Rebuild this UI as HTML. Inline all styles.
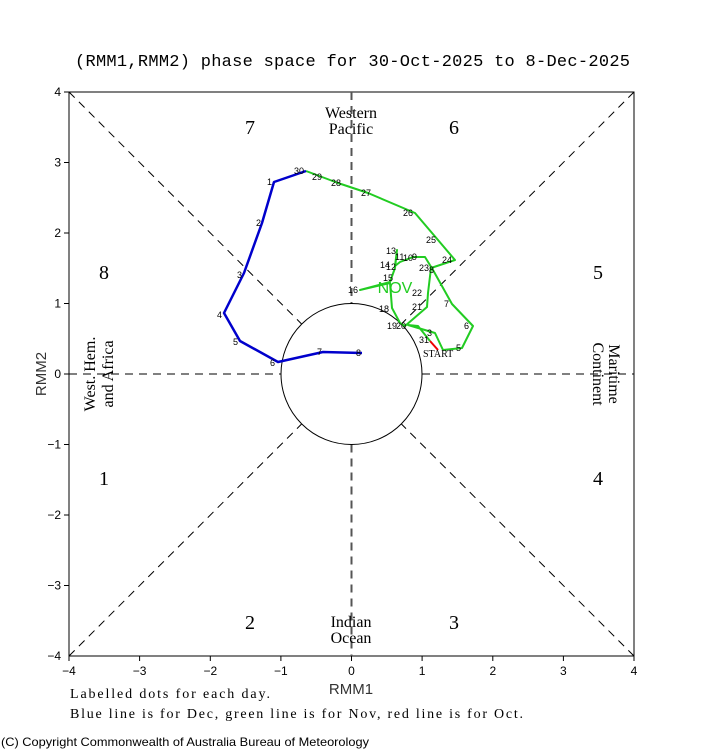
<!DOCTYPE html>
<html><head><meta charset="utf-8"><style>
body{margin:0;background:#fff;}
svg{display:block;}
</style></head><body>
<svg width="705" height="750" xmlns="http://www.w3.org/2000/svg" font-family="Liberation Sans, sans-serif">
<rect width="705" height="750" fill="#fff"/>
<text x="75" y="66" font-family="Liberation Mono, monospace" font-size="17" textLength="555" lengthAdjust="spacing" fill="#000">(RMM1,RMM2) phase space for 30-Oct-2025 to  8-Dec-2025</text>
<rect x="69" y="92" width="565" height="564" fill="none" stroke="#000" stroke-width="1"/>
<g stroke="#000" stroke-width="1" stroke-dasharray="8,6" fill="none">
<line x1="69" y1="92" x2="301.6" y2="324"/>
<line x1="634" y1="92" x2="401.4" y2="324"/>
<line x1="69" y1="656" x2="301.6" y2="424"/>
<line x1="634" y1="656" x2="401.4" y2="424"/>
<line x1="69" y1="374" x2="281" y2="374"/>
<line x1="422" y1="374" x2="634" y2="374"/>
</g>
<g stroke="#555" stroke-width="2" stroke-dasharray="8,6">
<line x1="351.5" y1="92" x2="351.5" y2="303.5"/>
<line x1="351.5" y1="444.5" x2="351.5" y2="656"/>
</g>
<circle cx="351.5" cy="374" r="70.5" fill="none" stroke="#000" stroke-width="1"/>
<g stroke="#000" stroke-width="1">
<line x1="69" y1="656" x2="69" y2="661"/><line x1="139.6" y1="656" x2="139.6" y2="661"/><line x1="210.3" y1="656" x2="210.3" y2="661"/><line x1="280.9" y1="656" x2="280.9" y2="661"/><line x1="351.5" y1="656" x2="351.5" y2="661"/><line x1="422.1" y1="656" x2="422.1" y2="661"/><line x1="492.8" y1="656" x2="492.8" y2="661"/><line x1="563.4" y1="656" x2="563.4" y2="661"/><line x1="634" y1="656" x2="634" y2="661"/>
<line x1="64" y1="92" x2="69" y2="92"/><line x1="64" y1="162.5" x2="69" y2="162.5"/><line x1="64" y1="233" x2="69" y2="233"/><line x1="64" y1="303.5" x2="69" y2="303.5"/><line x1="64" y1="374" x2="69" y2="374"/><line x1="64" y1="444.5" x2="69" y2="444.5"/><line x1="64" y1="515" x2="69" y2="515"/><line x1="64" y1="585.5" x2="69" y2="585.5"/>
</g>
<g font-size="12" text-anchor="middle" fill="#000">
<text x="69" y="675">−4</text><text x="139.6" y="675">−3</text><text x="210.3" y="675">−2</text><text x="280.9" y="675">−1</text><text x="351.5" y="675">0</text><text x="422.1" y="675">1</text><text x="492.8" y="675">2</text><text x="563.4" y="675">3</text><text x="634" y="675">4</text>
</g>
<g font-size="12" text-anchor="end" fill="#000">
<text x="61" y="96">4</text><text x="61" y="166.5">3</text><text x="61" y="237">2</text><text x="61" y="307.5">1</text><text x="61" y="378">0</text><text x="61" y="448.5">−1</text><text x="61" y="519">−2</text><text x="61" y="589.5">−3</text><text x="61" y="660">−4</text>
</g>
<text x="351" y="694" font-size="15" text-anchor="middle" fill="#333">RMM1</text>
<text transform="translate(46,374) rotate(-90)" font-size="15" text-anchor="middle" fill="#333">RMM2</text>
<g font-family="Liberation Serif, serif" font-size="20" text-anchor="middle" fill="#000">
<text x="250" y="134">7</text><text x="454" y="134">6</text><text x="104" y="279">8</text><text x="598" y="279">5</text><text x="104" y="485">1</text><text x="598" y="485">4</text><text x="250" y="629">2</text><text x="454" y="629">3</text>
</g>
<g font-family="Liberation Serif, serif" font-size="16" text-anchor="middle" fill="#000">
<text x="351" y="118">Western</text><text x="351" y="134">Pacific</text>
<text x="351" y="627">Indian</text><text x="351" y="643">Ocean</text>
<text transform="translate(95,374) rotate(-90)">West. Hem.</text>
<text transform="translate(113,374) rotate(-90)">and Africa</text>
<text transform="translate(609,374) rotate(90)">Maritime</text>
<text transform="translate(593,374) rotate(90)">Continent</text>
</g>
<polyline fill="none" stroke="#e00" stroke-width="2" points="438,350 430,341"/>
<polyline fill="none" stroke="#22cc22" stroke-width="2" stroke-linejoin="round" points="430,341 418,326 408,325 435,333 443,350 462,348 473,326 452,304 433,270 425,257 413,257 400,262 395,266 397,250 395,268 390,282 360,290 390,283 392,308 400,323 405,326 427,307 428,293 431,268 455,260 438,240 415,213 368,193 338,183 322,177 306,171"/>
<polyline fill="none" stroke="#0000cc" stroke-width="2.5" stroke-linejoin="round" points="306,171 274,182 262,223 244,273 224,313 240,341 278,362 323,352 362,353"/>
<text x="395" y="293" font-size="16" fill="#22cc22" text-anchor="middle">NOV</text>
<g font-size="9" fill="#000">
<text x="294" y="174">30</text><text x="267" y="185">1</text><text x="256" y="226">2</text><text x="237" y="278">3</text><text x="217" y="318">4</text><text x="233" y="345">5</text><text x="270" y="366">6</text><text x="317" y="355">7</text><text x="356" y="356">8</text>
<text x="312" y="180">29</text><text x="331" y="186">28</text><text x="361" y="196">27</text><text x="403" y="216">26</text><text x="426" y="243">25</text><text x="442" y="263">24</text><text x="419" y="271">23</text><text x="412" y="296">22</text><text x="412" y="310">21</text><text x="386" y="270">12</text><text x="380" y="268">14</text><text x="386" y="254">13</text><text x="403" y="261">10</text><text x="412" y="260">9</text><text x="429" y="273">8</text><text x="444" y="307">7</text><text x="464" y="329">6</text><text x="456" y="351">5</text><text x="427" y="336">3</text><text x="419" y="343">31</text><text x="348" y="293">16</text><text x="383" y="281">15</text><text x="379" y="312">18</text><text x="387" y="329">19</text><text x="396" y="329">20</text><text x="395" y="260">11</text>
<text x="423" y="357" font-family="Liberation Serif, serif" font-size="10">START</text>
</g>
<text x="70" y="698" font-family="Liberation Serif, serif" font-size="14" textLength="200" lengthAdjust="spacing" fill="#000">Labelled dots for each day.</text>
<text x="70" y="718" font-family="Liberation Serif, serif" font-size="14" textLength="453" lengthAdjust="spacing" fill="#000">Blue line is for Dec, green line is for Nov, red line is for Oct.</text>
<text x="1" y="746" font-size="12" textLength="368" lengthAdjust="spacingAndGlyphs" fill="#000">(C) Copyright Commonwealth of Australia Bureau of Meteorology</text>
</svg>
</body></html>
